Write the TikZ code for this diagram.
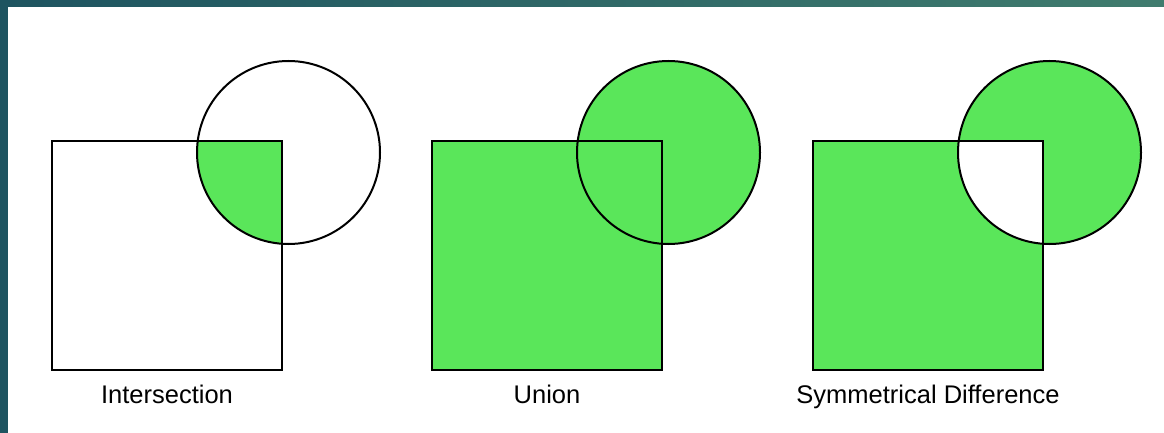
\documentclass[tikz,border=0pt]{standalone}
\usepackage{fontspec}
\setmainfont{Liberation Sans}
\begin{document}
\begin{tikzpicture}[x=1pt,y=-1pt,
  outline/.style={draw=black,line width=2pt},
  greenfill/.style={fill=setgreen},
  label/.style={font=\fontsize{25.5}{30}\selectfont,anchor=base}]
\definecolor{setgreen}{RGB}{90,230,90}
\definecolor{frameA}{RGB}{30,84,96}
\definecolor{frameB}{RGB}{64,124,110}
\useasboundingbox (0,0) rectangle (1164,433);
\fill[white] (0,0) rectangle (1164,433);
\shade[left color=frameA,right color=frameB] (0,0) rectangle (1164,7);
\fill[frameA] (0,0) rectangle (8,433);
% Intersection
\begin{scope}
  \clip (52,141) rectangle (282,370);
  \fill[setgreen] (288.5,152.5) circle (91.5);
\end{scope}
\draw[outline] (52,141) rectangle (282,370);
\draw[outline] (288.5,152.5) circle (91.5);
\node[label] (l1) at (167,403) {Intersection};
% Union
\fill[setgreen] (432,141) rectangle (662,370);
\fill[setgreen] (668.5,152.5) circle (91.5);
\draw[outline] (432,141) rectangle (662,370);
\draw[outline] (668.5,152.5) circle (91.5);
\node[label] (l2) at (547,403) {Union};
% Symmetric difference
\fill[setgreen,even odd rule] (813,141) rectangle (1043,370) (1049.5,152.5) circle (91.5);
\draw[outline] (813,141) rectangle (1043,370);
\draw[outline] (1049.5,152.5) circle (91.5);
\node[label] (l3) at (928,403) {Symmetrical Difference};
\end{tikzpicture}
\end{document}
